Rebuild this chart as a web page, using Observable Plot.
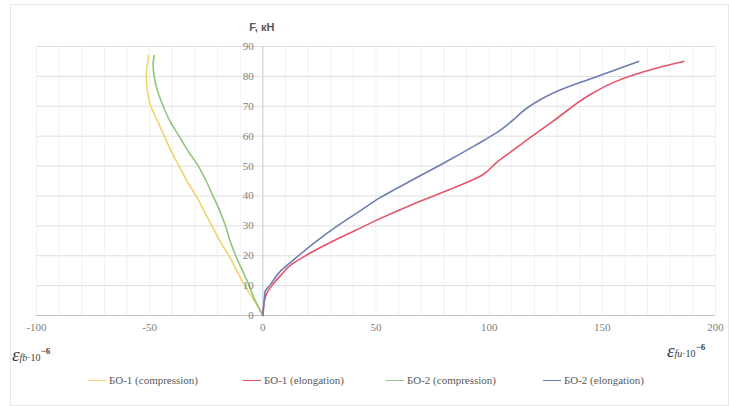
<!DOCTYPE html>
<html><head><meta charset="utf-8">
<script src="https://cdn.jsdelivr.net/npm/d3@7"></script>
<script src="https://cdn.jsdelivr.net/npm/@observablehq/plot@0.6"></script>
<style>
body{margin:0;background:#fff;}
#wrap{position:relative;width:729px;height:406px;overflow:hidden;font-family:"Liberation Serif","Times New Roman","DejaVu Serif",serif;}
#frame{position:absolute;left:10px;top:4px;width:719px;height:402px;border:1px solid #e8e8e8;box-sizing:border-box;pointer-events:none}
#chart{position:absolute;left:0;top:0}
.lab{position:absolute;color:#404040;white-space:nowrap;line-height:1;font-family:"Liberation Serif","Times New Roman","DejaVu Serif",serif}
.lab .e{font-size:19px;font-style:italic}
.lab .s{font-size:10px;font-style:italic}
.lab .n{font-size:10px}
.lab sup{font-size:9px;font-weight:bold;vertical-align:7px}
#legend{position:absolute;top:374px;left:0;width:729px;height:16px;font-size:11px;color:#595959;font-family:"Liberation Serif","Times New Roman","DejaVu Serif",serif}
.item{position:absolute;top:0;display:flex;align-items:center;white-space:nowrap}
.sw{display:inline-block;width:18px;height:0;border-top:1.5px solid;margin-right:3px}
</style></head>
<body>
<div id="wrap">
  <div id="chart"></div>
  <div class="lab" style="left:12px;top:345px"><span class="e">ε</span><span class="s">fb</span><span class="n">·10</span><sup>−6</sup></div>
  <div class="lab" style="left:667px;top:341px"><span class="e">ε</span><span class="s">fu</span><span class="n">·10</span><sup>−6</sup></div>
  <div id="legend"></div>
  <div id="frame"></div>
</div>
<script>
// Series names and colours
const seriesNames = ["БО-1 (compression)", "БО-1 (elongation)", "БО-2 (compression)", "БО-2 (elongation)"];
const seriesColors = ["#f3d46a", "#e2566a", "#93c47d", "#6d7db3"];

// БО-1 (compression)
const comp1X = [0, -3, -5.5, -8, -11.5, -15, -19, -22.5, -26, -29.5, -33.5, -37, -40.5, -43.5, -46.5, -49.5, -51, -51.5, -51, -50.5];
const comp1F = [0, 4, 7, 10, 15, 20, 25, 30, 35, 40, 45, 50, 55, 60, 65, 70, 75, 80, 84, 87];
// БО-1 (elongation)
const elon1X = [0, 0.5, 1.5, 4, 8, 12, 20, 30, 41, 52, 64, 82, 97, 103, 110, 119, 130, 144, 155, 163, 175, 186];
const elon1F = [0, 4, 7, 10, 13.5, 16.7, 20.5, 24.5, 28.5, 32.5, 36.5, 42, 47, 51, 55, 60, 66, 73.6, 78, 80.3, 83, 85];
// БО-2 (compression)
const comp2X = [0, -2, -4, -6, -9, -12, -14.5, -16.5, -19, -22, -25, -28.5, -33, -37, -41, -44, -46.5, -48, -48.5, -48];
const comp2F = [0, 3, 6, 10, 15, 20, 25, 30, 35, 40, 45, 50, 55, 60, 65, 70, 75, 80, 84, 87];
// БО-2 (elongation)
const elon2X = [0, 0.5, 1, 3, 8, 15, 23, 32, 42, 52, 64, 80, 94, 103, 110, 116, 130, 144, 155, 166];
const elon2F = [0, 4, 8, 10, 15, 19.5, 24.5, 29.5, 34.5, 39.5, 44.5, 51, 57, 61, 65, 69, 75, 79, 82, 85];

// Axis ticks
const xTicks = [-100, -50, 0, 50, 100, 150, 200];
const xTickLabels = ["-100", "-50", "0", "50", "100", "150", "200"];
const yTicks = [0, 10, 20, 30, 40, 50, 60, 70, 80, 90];
const minorX = d3.range(-100, 201, 10);

const seriesX = [comp1X, elon1X, comp2X, elon2X];
const seriesF = [comp1F, elon1F, comp2F, elon2F];
const rows = [];
seriesNames.forEach((name, i) => {
  seriesX[i].forEach((x, j) => rows.push({series: name, x, y: seriesF[i][j]}));
});

const serif = "Liberation Serif, Times New Roman, DejaVu Serif, serif";
const chart = Plot.plot({
  width: 729, height: 372,
  marginLeft: 36, marginRight: 14, marginTop: 46, marginBottom: 57,
  x: {domain: [-100, 200], axis: null},
  y: {domain: [0, 90], axis: null},
  color: {domain: seriesNames, range: seriesColors},
  style: {fontFamily: serif, fontSize: "11px", background: "transparent"},
  marks: [
    Plot.ruleX(minorX, {y1: 0, y2: 90, stroke: "#f1f1f1"}),
    Plot.ruleY(yTicks.filter(d => d > 0), {x1: -100, x2: 200, stroke: "#e0e0e0"}),
    Plot.ruleY([0], {x1: -100, x2: 200, stroke: "#bfbfbf"}),
    Plot.ruleX([0], {y1: 0, y2: 90, stroke: "#c8cfdd"}),
    Plot.line(rows, {x: "x", y: "y", z: "series", stroke: "series", curve: "monotone-y", strokeWidth: 1.6}),
    Plot.text(yTicks, {x: 0, y: d => d, text: d => String(d), dx: -9, textAnchor: "end", fill: "#808080", fontFamily: serif}),
    Plot.text(xTicks, {x: d => d, y: 0, text: (d, i) => xTickLabels[i], dy: 12, fill: "#808080", fontFamily: serif}),
    Plot.text(["F, кН"], {x: 0, y: 90, text: d => d, dy: -19, dx: -1, fontWeight: "bold", fontFamily: "Liberation Sans, Arial, sans-serif", fontSize: 11, fill: "#595959"})
  ]
});
document.getElementById("chart").appendChild(chart);

const legendLefts = [88, 243, 386, 543];
const legend = document.getElementById("legend");
seriesNames.forEach((name, i) => {
  const it = document.createElement("div");
  it.className = "item";
  it.style.left = legendLefts[i] + "px";
  it.innerHTML = `<span class="sw" style="border-color:${seriesColors[i]}"></span><span>${name}</span>`;
  legend.appendChild(it);
});
</script>
</body></html>
